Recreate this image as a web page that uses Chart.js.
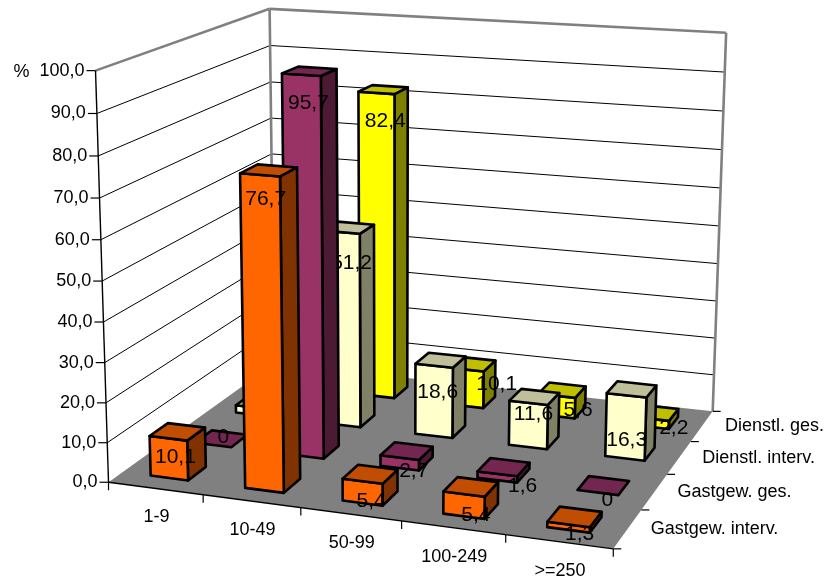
<!DOCTYPE html>
<html>
<head>
<meta charset="utf-8">
<title>Betriebsgrößen</title>
<style>
  html, body { margin: 0; padding: 0; background: #fff; }
  canvas { display: block; }
</style>
<script src="https://cdn.jsdelivr.net/npm/chart.js@4/dist/chart.umd.js"></script>
</head>
<body>
<canvas id="c" width="826" height="581"></canvas>
<script>
// Values in percent per size class
const sizeClasses = ['1-9', '10-49', '50-99', '100-249', '>=250'];
const seriesNames = ['Gastgew. interv.', 'Gastgew. ges.', 'Dienstl. interv.', 'Dienstl. ges.'];
const gastgewInterv = [10.1, 76.7, 5.4, 5.4, 1.3];
const gastgewGes = [0, 95.7, 2.7, 1.6, 0];
const dienstlInterv = [2, 51.2, 18.6, 11.6, 16.3];
const dienstlGes = [2, 82.4, 10.1, 5.6, 2.2];

// Face colours of each series: front, top, side
const palettes = [
  ['#FF6600', '#C04D00', '#803300'],
  ['#993366', '#732650', '#4D1A33'],
  ['#FFFFCC', '#BFBF99', '#808066'],
  ['#FFFF00', '#BFBF00', '#808000']
];

// Hand placement of the value labels relative to their box top: [dx, dy] per series and class
const labelNudge = [
  [[-2, 0], [-3, 4], [1, 2], [5, 3], [5, -8]],
  [[2, -27], [-1, 7], [7, -5], [19, -6], [4, -10]],
  [[0, 0], [3, 11], [-3, 7], [-1, -8], [-5, 26]],
  [[0, 0], [2, 7], [25, -5], [16, -5], [19, -10]]
];

// Camera calibration: normalised box position (category, depth, height) -> canvas pixel
const cameraSamples = [
  [0, 0, 0, 110, 480], [1, 0, 0, 612.5, 549.5], [1, 1, 0, 713, 410], [0, 1, 0, 272.5, 366],
  [0, 0, 1, 94, 71], [1, 1, 1, 726, 34], [0, 1, 1, 271, 9],
  [0.2, 0, 0, 204, 495], [0.4, 0, 0, 301.5, 508], [0.6, 0, 0, 402, 522], [0.8, 0, 0, 505, 537],
  [1, 0.25, 0, 641, 510], [1, 0.5, 0, 667, 474], [1, 0.75, 0, 691, 440],
  [0, 0, 0.5, 102, 279], [0, 1, 0.5, 271.5, 189], [1, 1, 0.5, 720, 225]
];

// Least-squares fit of an 11-parameter projective camera
function fitCamera(samples) {
  const n = 11;
  const M = Array.from({ length: n }, () => new Array(n + 1).fill(0));
  const addRow = (row, rhs) => {
    for (let i = 0; i < n; i++) {
      for (let j = 0; j < n; j++) M[i][j] += row[i] * row[j];
      M[i][n] += row[i] * rhs;
    }
  };
  samples.forEach(([u, v, w, X, Y]) => {
    addRow([u, v, w, 1, 0, 0, 0, 0, -X * u, -X * v, -X * w], X);
    addRow([0, 0, 0, 0, u, v, w, 1, -Y * u, -Y * v, -Y * w], Y);
  });
  for (let c = 0; c < n; c++) {
    let best = c;
    for (let r = c + 1; r < n; r++) if (Math.abs(M[r][c]) > Math.abs(M[best][c])) best = r;
    [M[c], M[best]] = [M[best], M[c]];
    for (let r = 0; r < n; r++) {
      if (r === c) continue;
      const f = M[r][c] / M[c][c];
      for (let k = c; k <= n; k++) M[r][k] -= f * M[c][k];
    }
  }
  return M.map((row, i) => row[n] / row[i]);
}
const cam = fitCamera(cameraSamples);
function project(u, v, w) {
  const d = cam[8] * u + cam[9] * v + cam[10] * w + 1;
  return {
    x: (cam[0] * u + cam[1] * v + cam[2] * w + cam[3]) / d,
    y: (cam[4] * u + cam[5] * v + cam[6] * w + cam[7]) / d
  };
}

const AXIS_FONT = '18px "Liberation Sans", Arial, sans-serif';
const LABEL_FONT = '21px "Liberation Sans", Arial, sans-serif';
const decimalFormat = v => v.toFixed(1).replace('.', ',');
const fraction = (scale, value) => scale.getDecimalForPixel(scale.getPixelForValue(value));

function segment(ctx, a, b, color, width) {
  ctx.strokeStyle = color;
  ctx.lineWidth = width;
  ctx.beginPath();
  ctx.moveTo(a.x, a.y);
  ctx.lineTo(b.x, b.y);
  ctx.stroke();
}

function face(ctx, pts, fill) {
  ctx.fillStyle = fill;
  ctx.strokeStyle = '#000';
  ctx.lineWidth = 2.6;
  ctx.lineJoin = 'round';
  ctx.beginPath();
  pts.forEach((p, i) => (i ? ctx.lineTo(p.x, p.y) : ctx.moveTo(p.x, p.y)));
  ctx.closePath();
  ctx.fill();
  ctx.stroke();
}

function text(ctx, str, x, y, font, align) {
  ctx.font = font;
  ctx.fillStyle = '#000';
  ctx.textAlign = align;
  ctx.textBaseline = 'middle';
  ctx.fillText(str, x, y);
}

// Walls, floor, grid and axes of the box
function drawFrame(chart) {
  const { ctx } = chart;
  const xs = chart.scales.x, zs = chart.scales.z, ys = chart.scales.y;

  ctx.save();
  ctx.lineCap = 'butt';
  const floor = [project(0, 0, 0), project(1, 0, 0), project(1, 1, 0), project(0, 1, 0)];
  ctx.fillStyle = '#808080';
  ctx.beginPath();
  floor.forEach((p, i) => (i ? ctx.lineTo(p.x, p.y) : ctx.moveTo(p.x, p.y)));
  ctx.closePath();
  ctx.fill();

  ys.ticks.forEach(t => {
    const w = fraction(ys, t.value);
    if (w > 0.001 && w < 0.999) {
      segment(ctx, project(0, 0, w), project(0, 1, w), '#000', 1);
      segment(ctx, project(0, 1, w), project(1, 1, w), '#000', 1);
    }
  });

  const wallLine = '#808080';
  segment(ctx, project(0, 0, 1), project(0, 1, 1), wallLine, 2.6);
  segment(ctx, project(0, 1, 1), project(1, 1, 1), wallLine, 2.6);
  segment(ctx, project(0, 1, 0), project(0, 1, 1), wallLine, 2.6);
  segment(ctx, project(1, 1, 0), project(1, 1, 1), wallLine, 2.6);

  // Value axis with ticks and labels
  segment(ctx, project(0, 0, 0), project(0, 0, 1), '#000', 1.4);
  ys.ticks.forEach(t => {
    const p = project(0, 0, fraction(ys, t.value));
    segment(ctx, p, { x: p.x - 9, y: p.y }, '#000', 1.2);
    text(ctx, decimalFormat(t.value), p.x - 11, p.y, AXIS_FONT, 'right');
  });
  const top = project(0, 0, 1);
  text(ctx, '%', top.x - 74, top.y + 1, AXIS_FONT, 'center');

  // Category axis along the front floor edge
  segment(ctx, project(0, 0, 0), project(1, 0, 0), '#000', 1.4);
  const catStep = 1 / sizeClasses.length;
  sizeClasses.forEach((name, i) => {
    const u = fraction(xs, i);
    const p = project(u, 0, 0);
    text(ctx, name, p.x + 1, p.y + 29, AXIS_FONT, 'center');
    const e = project(u - catStep / 2, 0, 0);
    segment(ctx, e, { x: e.x, y: e.y + 8 }, '#000', 1.2);
  });
  const endFront = project(1, 0, 0);
  segment(ctx, endFront, { x: endFront.x, y: endFront.y + 8 }, '#000', 1.2);

  // Series axis along the right floor edge
  const depthStep = 1 / seriesNames.length;
  seriesNames.forEach((name, i) => {
    const v = fraction(zs, i);
    const p = project(1, v, 0);
    text(ctx, name, p.x + 23, p.y, AXIS_FONT, 'left');
    const e = project(1, v - depthStep / 2, 0);
    segment(ctx, e, { x: e.x + 8, y: e.y }, '#000', 1.2);
  });
  const endDepth = project(1, 1, 0);
  segment(ctx, endDepth, { x: endDepth.x + 8, y: endDepth.y }, '#000', 1.2);
  ctx.restore();
}

// One box per value, painted from the back row forward, label with its box
function drawBars(chart) {
  const { ctx, data } = chart;
  const xs = chart.scales.x, zs = chart.scales.z, ys = chart.scales.y;
  const halfU = chart.options.datasets.bar.barPercentage / sizeClasses.length / 2;
  const halfV = chart.options.datasets.bar.barPercentage / seriesNames.length / 2;

  ctx.save();
  for (let s = data.datasets.length - 1; s >= 0; s--) {
    const ds = data.datasets[s];
    const v = fraction(zs, s);
    const [front, topColor, side] = palettes[s];
    ds.data.forEach((value, c) => {
      const u = fraction(xs, c);
      const w = fraction(ys, value);
      const u0 = u - halfU, u1 = u + halfU, v0 = v - halfV, v1 = v + halfV;
      if (value > 0) {
        face(ctx, [project(u1, v0, 0), project(u1, v1, 0), project(u1, v1, w), project(u1, v0, w)], side);
        face(ctx, [project(u0, v0, 0), project(u1, v0, 0), project(u1, v0, w), project(u0, v0, w)], front);
      }
      face(ctx, [project(u0, v0, w), project(u1, v0, w), project(u1, v1, w), project(u0, v1, w)], topColor);
      const a = project(u, v, w);
      const [dx, dy] = labelNudge[s][c];
      text(ctx, String(value).replace('.', ','), a.x + dx, a.y + 25 + dy, LABEL_FONT, 'center');
    });
  }
  ctx.restore();
}

const frame3d = {
  id: 'frame3d',
  beforeDatasetsDraw(chart) {
    drawFrame(chart);
    drawBars(chart);
    return false;
  }
};

new Chart(document.getElementById('c'), {
  type: 'bar',
  data: {
    labels: sizeClasses,
    datasets: [
      { label: seriesNames[0], data: gastgewInterv, backgroundColor: palettes[0][0] },
      { label: seriesNames[1], data: gastgewGes, backgroundColor: palettes[1][0] },
      { label: seriesNames[2], data: dienstlInterv, backgroundColor: palettes[2][0] },
      { label: seriesNames[3], data: dienstlGes, backgroundColor: palettes[3][0] }
    ]
  },
  options: {
    responsive: false,
    animation: false,
    datasets: { bar: { barPercentage: 0.4, categoryPercentage: 1 } },
    plugins: { legend: { display: false }, tooltip: { enabled: false } },
    scales: {
      x: { type: 'category', offset: true, display: false },
      z: { type: 'category', axis: 'x', labels: seriesNames, offset: true, display: false },
      y: { type: 'linear', min: 0, max: 100, ticks: { stepSize: 10, callback: decimalFormat }, display: false }
    }
  },
  plugins: [frame3d]
});
</script>
</body>
</html>
